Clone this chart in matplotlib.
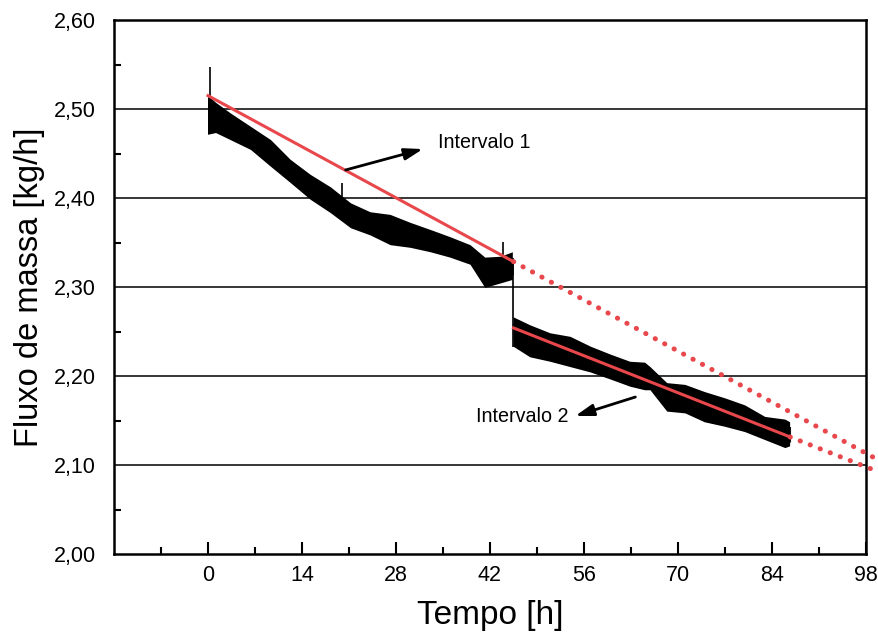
import numpy as np
import matplotlib.pyplot as plt
from matplotlib.ticker import MultipleLocator, FixedLocator

plt.rcParams["font.family"] = ["Liberation Sans", "DejaVu Sans"]
plt.rcParams["hatch.linewidth"] = 1.0

# ── data ─────────────────────────────────────────────────────────────────────
# interval 1 noisy band (hours, upper / lower envelope in kg/h)
t1 = [0.0, 1.2, 3.4, 6.4, 9.4, 12.3, 15.3, 18.3, 21.3, 24.2, 27.2, 30.2,
      33.2, 36.1, 39.1, 41.3, 43.6, 45.4]
up1 = [2.515, 2.507, 2.495, 2.480, 2.465, 2.443, 2.426, 2.412, 2.394, 2.384,
       2.381, 2.372, 2.364, 2.356, 2.347, 2.333, 2.334, 2.339]
lo1 = [2.471, 2.473, 2.465, 2.454, 2.435, 2.417, 2.398, 2.383, 2.366, 2.358,
       2.347, 2.344, 2.339, 2.333, 2.325, 2.299, 2.304, 2.308]

# interval 2 noisy band
t2 = [45.5, 48.0, 51.0, 54.0, 57.0, 60.0, 62.9, 65.1, 65.9, 68.4, 71.1, 74.0,
      77.0, 80.0, 83.0, 86.0, 86.7]
up2 = [2.266, 2.257, 2.248, 2.244, 2.233, 2.224, 2.216, 2.215, 2.210, 2.192,
       2.190, 2.182, 2.175, 2.167, 2.154, 2.151, 2.148]
lo2 = [2.233, 2.221, 2.216, 2.210, 2.204, 2.196, 2.188, 2.184, 2.184, 2.160,
       2.158, 2.148, 2.143, 2.137, 2.128, 2.119, 2.121]

# single spikes (time, base, top)
spike_t = [0.3, 20.0, 44.0]
spike_lo = [2.505, 2.385, 2.320]
spike_hi = [2.547, 2.417, 2.351]
# step between the two intervals
step_t = 45.5
step_vals = (2.330, 2.233)

# fitted lines and their extrapolation
fit1_x = [0.0, 45.5]
fit1_y = [2.515, 2.3285]
fit1_ext_x = [45.5, 100.0]
fit1_ext_y = [2.3285, 2.105]
fit2_x = [45.5, 86.7]
fit2_y = [2.254, 2.1315]
fit2_ext_x = [86.7, 100.0]
fit2_ext_y = [2.1315, 2.092]

C_RED = "#e8474c"


def noisy_band(ax, t, up, lo):
    """Hatched outer envelope plus a solid dense core."""
    t, up, lo = map(np.asarray, (t, up, lo))
    ax.fill_between(t, lo, up, facecolor="none", edgecolor="black",
                    hatch="|" * 12, lw=0, zorder=3)
    w = up - lo
    ax.fill_between(t, lo + 0.2 * w, up - 0.2 * w, color="black", lw=0.6, zorder=3)


fig = plt.figure(figsize=(8.79, 6.39), dpi=100)
ax = fig.add_axes([0.1297, 0.133, 0.8555, 0.8357])

# grid lines
for yv in [2.1, 2.2, 2.3, 2.4, 2.5]:
    ax.axhline(yv, color="black", lw=1.1, zorder=1)

# noisy measurement bands
noisy_band(ax, t1, up1, lo1)
noisy_band(ax, t2, up2, lo2)
ax.vlines(spike_t, spike_lo, spike_hi, color="black", lw=1.2, zorder=3)
ax.vlines([step_t], step_vals[1], step_vals[0], color="black", lw=1.2, zorder=3)

# fits
ax.plot(fit1_x, fit1_y, color=C_RED, lw=2.2, zorder=4)
ax.plot(fit2_x, fit2_y, color=C_RED, lw=2.2, zorder=4)
for xs, ys in [(fit1_ext_x, fit1_ext_y), (fit2_ext_x, fit2_ext_y)]:
    ax.plot(xs, ys, color=C_RED, lw=3.6, linestyle=(0, (0.05, 2.1)),
            dash_capstyle="round", clip_on=False, zorder=4)

# annotations
arrow = dict(arrowstyle="-|>,head_length=1.1,head_width=0.35",
             color="black", lw=2.0, shrinkA=0, shrinkB=0)
ax.annotate("", xy=(32.0, 2.455), xytext=(20.5, 2.4315), arrowprops=arrow, zorder=5)
ax.text(34.2, 2.462, "Intervalo 1", fontsize=14.2, va="center", ha="left")
ax.annotate("", xy=(54.7, 2.1551), xytext=(63.65, 2.1764), arrowprops=arrow, zorder=5)
ax.text(39.9, 2.154, "Intervalo 2", fontsize=14.2, va="center", ha="left")

# axes
ax.set_xlim(-14, 98)
ax.set_ylim(2.0, 2.6)
ax.xaxis.set_major_locator(FixedLocator([0, 14, 28, 42, 56, 70, 84, 98]))
ax.xaxis.set_minor_locator(FixedLocator([-7, 7, 21, 35, 49, 63, 77, 91]))
ax.yaxis.set_major_locator(MultipleLocator(0.1))
ax.yaxis.set_minor_locator(MultipleLocator(0.05))
ax.yaxis.set_major_formatter(plt.FuncFormatter(lambda v, p: f"{v:.2f}".replace(".", ",")))
ax.tick_params(which="major", direction="in", length=9, width=1.5, labelsize=15.5, pad=8)
ax.tick_params(which="minor", direction="in", length=5, width=1.5)
ax.tick_params(axis="y", which="major", length=0, pad=13)
for s in ax.spines.values():
    s.set_linewidth(1.8)

ax.set_xlabel("Tempo [h]", fontsize=24, labelpad=10)
ax.set_ylabel("Fluxo de massa [kg/h]", fontsize=23.5, labelpad=6)

fig.savefig("out.png", dpi=100)
